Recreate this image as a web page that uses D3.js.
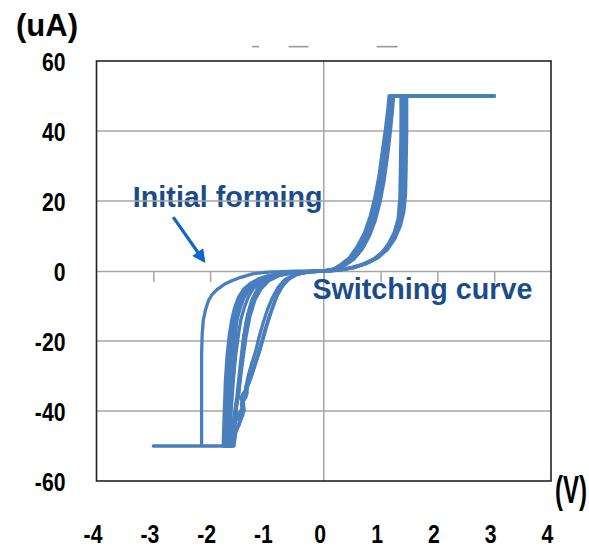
<!DOCTYPE html>
<html>
<head>
<meta charset="utf-8">
<script src="https://cdn.jsdelivr.net/npm/d3@7"></script>
<style>
  html, body { margin: 0; padding: 0; background: #fff; }
  svg { display: block; }
</style>
</head>
<body>
<div id="chart"></div>
<script>
// axis ticks
const xTicks = [-4, -3, -2, -1, 0, 1, 2, 3, 4];
const yTicks = [-60, -40, -20, 0, 20, 40, 60];
const yGrid = [-40, -20, 20, 40];

// initial forming sweep (V, uA)
const forming = [[0,0],[-0.5,-0.05],[-0.98,-0.3],[-1.25,-0.8],[-1.46,-1.8],[-1.62,-2.8],[-1.75,-3.8],[-1.88,-5.3],[-1.97,-6.8],[-2.03,-8.5],[-2.08,-11],[-2.12,-14],[-2.14,-18],[-2.15,-24],[-2.15,-50],[-3.0,-50],[-1.7,-50]];

// switching cycles (V, uA)
const cycle1 = [[0,0],[0.2,0.5],[0.35,1.8],[0.5,3.5],[0.65,6.5],[0.78,10.5],[0.88,15],[0.96,20],[1.03,26],[1.09,33],[1.14,40],[1.18,46],[1.2,50],[3.0,50],
  [1.42,50],[1.41,40],[1.4,30],[1.39,22],[1.36,16],[1.3,12],[1.2,8.5],[1.08,5.8],[0.92,3.6],[0.72,2],[0.5,0.9],[0.25,0.25],[0,0],
  [-0.4,-0.3],[-0.7,-0.8],[-0.9,-1.4],[-1.05,-2.2],[-1.18,-3.4],[-1.3,-5],[-1.4,-7.5],[-1.47,-10.5],[-1.53,-14],[-1.57,-18],[-1.61,-24],[-1.65,-31],[-1.68,-40],[-1.71,-50],
  [-1.6,-50],[-1.56,-46],[-1.49,-44],[-1.45,-41],[-1.4,-40],[-1.42,-37],[-1.35,-35],[-1.37,-33],[-1.3,-31],[-1.24,-28],[-1.16,-24],[-1.09,-20],[-1.02,-16],[-0.94,-12],[-0.85,-8],[-0.76,-5],[-0.64,-2.5],[-0.48,-1],[-0.25,-0.25],[0,0]];
const cycle2 = [[0,0],[0.2,0.6],[0.33,1.9],[0.47,3.7],[0.61,6.8],[0.74,10.8],[0.84,15.5],[0.92,20.5],[0.99,26.5],[1.05,33],[1.11,40],[1.15,46],[1.17,50],[3.0,50],
  [1.36,50],[1.36,40],[1.35,30],[1.34,21],[1.31,15],[1.24,11],[1.14,7.8],[1.02,5.2],[0.86,3.2],[0.66,1.7],[0.45,0.8],[0.22,0.2],[0,0],
  [-0.42,-0.3],[-0.74,-0.8],[-0.95,-1.4],[-1.11,-2.2],[-1.25,-3.4],[-1.37,-5],[-1.47,-7.5],[-1.54,-10.5],[-1.6,-14],[-1.64,-18],[-1.68,-24],[-1.71,-31],[-1.74,-40],[-1.76,-50],
  [-1.62,-50],[-1.58,-47],[-1.52,-45],[-1.47,-43],[-1.5,-41],[-1.43,-39],[-1.45,-36],[-1.38,-34],[-1.33,-30],[-1.26,-26],[-1.2,-23],[-1.14,-19],[-1.07,-15],[-0.99,-11],[-0.9,-7.5],[-0.8,-4.6],[-0.68,-2.4],[-0.5,-0.9],[-0.26,-0.2],[0,0]];
const cycle3 = [[0,0],[0.22,0.5],[0.38,1.7],[0.53,3.4],[0.68,6.3],[0.81,10.2],[0.91,14.6],[0.99,19.6],[1.06,25.6],[1.12,32.5],[1.17,39.5],[1.21,46],[1.23,50],[3.0,50],
  [1.46,50],[1.46,40],[1.45,30],[1.44,22],[1.41,17],[1.35,13],[1.25,9.2],[1.13,6.3],[0.97,4],[0.77,2.3],[0.55,1],[0.28,0.3],[0,0],
  [-0.38,-0.3],[-0.66,-0.8],[-0.85,-1.4],[-1.0,-2.2],[-1.12,-3.4],[-1.24,-5],[-1.33,-7.5],[-1.4,-10.5],[-1.46,-14],[-1.5,-18],[-1.55,-24],[-1.59,-31],[-1.63,-40],[-1.66,-50],
  [-1.58,-50],[-1.54,-45],[-1.47,-43],[-1.42,-41],[-1.45,-38],[-1.37,-36],[-1.34,-33],[-1.29,-31],[-1.21,-27],[-1.13,-23],[-1.06,-19],[-0.99,-15],[-0.91,-11],[-0.82,-7],[-0.72,-4.2],[-0.6,-2.1],[-0.44,-0.8],[-0.22,-0.2],[0,0]];
const cycle4 = [[0,0],[0.18,0.6],[0.31,2],[0.45,3.8],[0.59,7],[0.72,11],[0.82,15.8],[0.9,21],[0.97,27],[1.03,34],[1.09,41],[1.13,46.5],[1.15,50],[3.0,50],
  [1.39,50],[1.39,40],[1.38,30],[1.37,22],[1.34,16],[1.28,12],[1.18,8.5],[1.06,5.8],[0.9,3.6],[0.7,2],[0.48,0.9],[0.24,0.25],[0,0],
  [-0.44,-0.3],[-0.76,-0.8],[-0.98,-1.4],[-1.14,-2.2],[-1.28,-3.4],[-1.4,-5],[-1.5,-7.5],[-1.57,-10.5],[-1.62,-14],[-1.66,-18],[-1.7,-24],[-1.73,-31],[-1.75,-40],[-1.77,-50],
  [-1.66,-50],[-1.6,-44],[-1.53,-36],[-1.47,-27],[-1.42,-20],[-1.36,-14],[-1.28,-9],[-1.18,-5.5],[-1.05,-3],[-0.88,-1.6],[-0.65,-0.7],[-0.35,-0.2],[0,0]];
const cycle5 = [[0,0],[0.21,0.5],[0.37,1.8],[0.52,3.5],[0.67,6.5],[0.8,10.5],[0.9,15],[0.98,20],[1.05,26],[1.11,33],[1.16,40],[1.2,46],[1.22,50],[3.0,50],
  [1.44,50],[1.44,40],[1.43,30],[1.42,23],[1.39,17],[1.33,12.5],[1.23,9],[1.1,6],[0.94,3.7],[0.74,2.1],[0.52,0.95],[0.26,0.25],[0,0],
  [-0.4,-0.3],[-0.72,-0.8],[-0.93,-1.4],[-1.08,-2.2],[-1.22,-3.4],[-1.34,-5],[-1.44,-7.5],[-1.51,-10.5],[-1.56,-14],[-1.6,-18],[-1.64,-24],[-1.67,-31],[-1.7,-40],[-1.73,-50],
  [-1.64,-50],[-1.57,-43],[-1.5,-35],[-1.43,-26],[-1.37,-19],[-1.3,-13],[-1.21,-8.2],[-1.1,-5],[-0.96,-2.7],[-0.8,-1.4],[-0.58,-0.6],[-0.3,-0.15],[0,0]];
const cycle6 = [[0,0],[0.19,0.55],[0.34,1.85],[0.49,3.6],[0.64,6.6],[0.77,10.6],[0.87,15.2],[0.95,20.2],[1.02,26.2],[1.08,33],[1.13,40],[1.17,46],[1.19,50],[3.0,50],
  [1.4,50],[1.4,40],[1.39,30],[1.38,21],[1.35,15.5],[1.29,11.5],[1.19,8.2],[1.07,5.6],[0.91,3.5],[0.71,1.95],[0.49,0.88],[0.24,0.22],[0,0],
  [-0.41,-0.3],[-0.72,-0.8],[-0.92,-1.4],[-1.07,-2.2],[-1.2,-3.4],[-1.31,-5],[-1.41,-7.5],[-1.48,-10.5],[-1.53,-14],[-1.55,-18],[-1.59,-24],[-1.63,-31],[-1.67,-40],[-1.69,-50],
  [-1.63,-50],[-1.58,-45],[-1.53,-42],[-1.55,-39],[-1.5,-36],[-1.47,-30],[-1.44,-24],[-1.4,-18],[-1.33,-12],[-1.24,-7.5],[-1.12,-4.4],[-0.98,-2.4],[-0.8,-1.2],[-0.55,-0.45],[-0.28,-0.1],[0,0]];
const cycles = [cycle1, cycle2, cycle3, cycle4, cycle5, cycle6];

// annotations, in data units
const formingLabel = {text: 'Initial forming', v: -3.36, i: 18.3};
const switchLabel = {text: 'Switching curve', v: -0.2, i: -8};
const arrowFrom = [-2.65, 15.4];
const arrowTo = [-2.11, 2.9];
// leftover dashes above the plot
const topDashes = [[-1.26, -1.14], [-0.62, -0.27], [0.93, 1.3]];
const topDashY = 64.1;

const width = 589, height = 549;
const plot = {left: 96.5, right: 551, top: 61, bottom: 481};

const x = d3.scaleLinear().domain([-4, 4]).range([plot.left, plot.right]);
const y = d3.scaleLinear().domain([-60, 60]).range([plot.bottom, plot.top]);

const svg = d3.select('#chart').append('svg')
  .attr('width', width)
  .attr('height', height)
  .attr('viewBox', [0, 0, width, height]);

svg.append('rect').attr('width', width).attr('height', height).attr('fill', '#fff');

const textFont = "'Liberation Sans', Arial, sans-serif";
const noteColor = '#1a4c8c';
const gridColor = '#a6a6a6';
const lineColor = '#4a7fbd';
const narrow = 0.8; // squeeze digits to look like the narrow original face

// annotation text goes under the grid, like the original
svg.append('text')
  .attr('x', x(formingLabel.v))
  .attr('y', y(formingLabel.i))
  .attr('font-family', textFont)
  .attr('font-weight', 'bold')
  .attr('font-size', 28.7)
  .attr('fill', noteColor)
  .text(formingLabel.text);

// horizontal grid
svg.append('g')
  .selectAll('line')
  .data(yGrid)
  .join('line')
  .attr('x1', plot.left)
  .attr('x2', plot.right)
  .attr('y1', d => y(d))
  .attr('y2', d => y(d))
  .attr('stroke', gridColor)
  .attr('stroke-width', 1.5);

// x axis through zero, ticks hanging below
const xAxis = svg.append('g')
  .attr('transform', `translate(0,${y(0)})`)
  .call(d3.axisBottom(x).tickValues(xTicks.slice(1, -1)).tickSizeInner(11).tickSizeOuter(0).tickFormat(''));
xAxis.select('.domain').attr('stroke', gridColor).attr('stroke-width', 1.5);
xAxis.selectAll('.tick line').attr('stroke', gridColor).attr('stroke-width', 1.5);

// y axis through zero
svg.append('line')
  .attr('x1', x(0)).attr('x2', x(0))
  .attr('y1', plot.top).attr('y2', plot.bottom)
  .attr('stroke', gridColor)
  .attr('stroke-width', 1.5);

// frame
svg.append('rect')
  .attr('x', plot.left)
  .attr('y', plot.top)
  .attr('width', plot.right - plot.left)
  .attr('height', plot.bottom - plot.top)
  .attr('fill', 'none')
  .attr('stroke', '#222')
  .attr('stroke-width', 1.6);

// dashes above the frame
svg.append('g')
  .selectAll('line')
  .data(topDashes)
  .join('line')
  .attr('x1', d => x(d[0]))
  .attr('x2', d => x(d[1]))
  .attr('y1', y(topDashY))
  .attr('y2', y(topDashY))
  .attr('stroke', '#9a9a9a')
  .attr('stroke-width', 1.6);

// curves
const line = d3.line()
  .x(d => x(d[0]))
  .y(d => y(d[1]));

svg.append('g')
  .selectAll('path')
  .data([forming, ...cycles])
  .join('path')
  .attr('d', line)
  .attr('fill', 'none')
  .attr('stroke', lineColor)
  .attr('stroke-width', 3.3)
  .attr('stroke-linejoin', 'round')
  .attr('stroke-linecap', 'round');

// arrow
const defs = svg.append('defs');
defs.append('marker')
  .attr('id', 'arrowhead')
  .attr('viewBox', '0 0 10 10')
  .attr('refX', 8)
  .attr('refY', 5)
  .attr('markerWidth', 4.8)
  .attr('markerHeight', 4.2)
  .attr('orient', 'auto')
  .attr('markerUnits', 'strokeWidth')
  .append('path')
  .attr('d', 'M0,0 L10,5 L0,10 z')
  .attr('fill', '#0d66c9');

svg.append('line')
  .attr('x1', x(arrowFrom[0]))
  .attr('y1', y(arrowFrom[1]))
  .attr('x2', x(arrowTo[0]))
  .attr('y2', y(arrowTo[1]))
  .attr('stroke', '#0d66c9')
  .attr('stroke-width', 3.2)
  .attr('marker-end', 'url(#arrowhead)');

svg.append('text')
  .attr('x', x(switchLabel.v))
  .attr('y', y(switchLabel.i))
  .attr('font-family', textFont)
  .attr('font-weight', 'bold')
  .attr('font-size', 28.7)
  .attr('fill', noteColor)
  .text(switchLabel.text);

// y tick labels
svg.append('g')
  .selectAll('text')
  .data(yTicks)
  .join('text')
  .attr('transform', d => `translate(${plot.left - 31},${y(d)}) scale(${narrow},1)`)
  .attr('dy', '0.36em')
  .attr('text-anchor', 'end')
  .attr('font-family', textFont)
  .attr('font-weight', 'bold')
  .attr('font-size', 26.5)
  .attr('fill', '#000')
  .text(d => d);

// x tick labels
svg.append('g')
  .selectAll('text')
  .data(xTicks)
  .join('text')
  .attr('transform', d => `translate(${x(d) - 3.5},543) scale(${narrow},1)`)
  .attr('text-anchor', 'middle')
  .attr('font-family', textFont)
  .attr('font-weight', 'bold')
  .attr('font-size', 26.5)
  .attr('fill', '#000')
  .text(d => d);

// unit labels
svg.append('text')
  .attr('x', 16)
  .attr('y', 36)
  .attr('font-family', textFont)
  .attr('font-weight', 'bold')
  .attr('font-size', 31)
  .attr('fill', '#000')
  .text('(uA)');

svg.append('text')
  .attr('transform', `translate(555,503) scale(${narrow},1.3)`)
  .attr('font-family', textFont)
  .attr('font-weight', 'bold')
  .attr('font-size', 30)
  .attr('fill', '#000')
  .text('(V)');
</script>
</body>
</html>
